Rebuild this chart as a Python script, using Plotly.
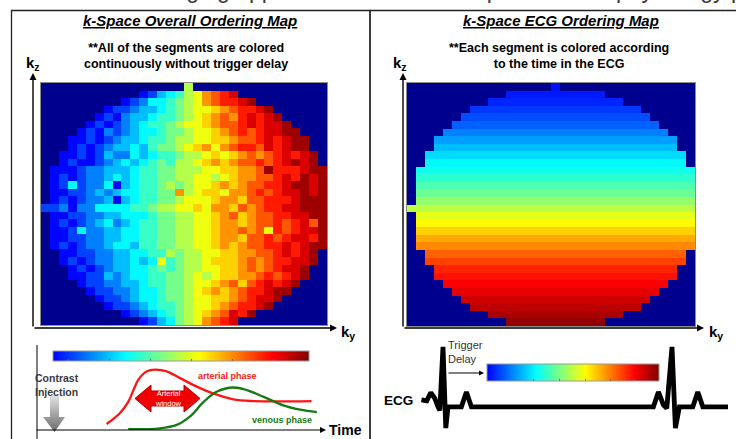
import plotly.graph_objects as go

W, H = 736, 439

# ---------------- data ----------------
N_K = 32
# half-width (in cells) of the sampled k-space disc for each kz row
row_halfwidth = [0, 5, 7, 9, 10, 11, 12, 13, 13, 14, 14, 15, 15, 15, 15, 15,
                 16, 15, 15, 15, 15, 15, 14, 14, 13, 13, 12, 11, 10, 9, 7, 5]

# colour levels used in the overall ordering map (jet position)
level_codes = "0123456789ABCDE"
level_values = [0.13, 0.19, 0.25, 0.31, 0.37, 0.43, 0.49, 0.55,
                0.61, 0.67, 0.73, 0.79, 0.85, 0.91, 0.97]

# overall ordering map: one code per sampled cell, row by row (top to bottom)
overall_rows = [
    "7",
    "0134578ABCD",
    "012445678ABCCDE",
    "0112334567889ABCCDE",
    "0102334556789ABACDCDE",
    "01012345567889ABBCDCDDE",
    "0102123445667889ABCBCDDEE",
    "001012334556778899ABBCDCDEE",
    "010123343566789A8ABCCBDCDEE",
    "00101322434556778989ABABCDCDE",
    "01001234345657789A9ABBCBCDEDE",
    "000122333455667778899AABECCCDEE",
    "010122343455667788789AABBCDCEDE",
    "0141224034556767889A9ABBCCDEEDE",
    "00112323445566A78998AABCBCDDEDE",
    "0101223034556678889AA9BBCCCDEEE",
    "1120224444556778898AA9BABCCDDEEE",
    "0011223344456677889AB9ABBCCDDEE",
    "0101234234556677889AA9ABBCBCDBE",
    "0014223344556677889AABAB8CBCDDE",
    "0011223344556677889AA9BBCBCDDCE",
    "0101223443556677889A9ABBCCDCDEE",
    "00112233445576778899AABBCDCDE",
    "01012233434856778999ABABCCDDE",
    "0101233445656778899ABABCDDE",
    "0011323445566787899AABCBCDE",
    "0112233455667889AB9BCDCDE",
    "01122344566789A9ABCCDEE",
    "011234456678899ABCDDE",
    "0112345567889ABCCDE",
    "0123456789ABDCE",
    "0134678ABCD",
]

# ECG ordering map: value of each kz row
ecg_row_values = [0.14, 0.15, 0.16, 0.18, 0.20, 0.22, 0.25, 0.28, 0.31, 0.34,
                  0.37, 0.39, 0.42, 0.45, 0.48, 0.52, 0.56, 0.60, 0.63, 0.67,
                  0.71, 0.74, 0.78, 0.81, 0.84, 0.86, 0.88, 0.90, 0.92, 0.94,
                  0.96, 0.98]
background_value = 0.0

# contrast enhancement curves (time in s, relative signal)
arterial_t = [14.5, 17.3, 19.0, 20.1, 21.1, 22.9, 24.6, 27.0, 29.8, 33.3, 36.7, 40.9, 45.1, 57.2]
arterial_s = [0.07, 0.20, 0.33, 0.47, 0.59, 0.69, 0.71, 0.69, 0.61, 0.51, 0.43, 0.36, 0.34, 0.34]
venous_t = [19.0, 25.6, 29.1, 31.9, 34.7, 37.4, 40.9, 43.7, 47.2, 51.3, 54.8, 58.3]
venous_s = [0.01, 0.02, 0.06, 0.16, 0.33, 0.45, 0.50, 0.47, 0.39, 0.29, 0.24, 0.21]

# ECG trace (time in s, mV)
ecg_t = [0.227, 0.254, 0.274, 0.294, 0.310, 0.319, 0.335, 0.349, 0.360, 0.427,
         0.452, 0.477, 1.387, 1.412, 1.437, 1.454, 1.480, 1.497, 1.517, 1.584,
         1.609, 1.634, 1.760]
ecg_mv = [0.14, 0.12, 0.29, 0.17, 0.0, -0.07, 1.21, -0.43, 0.0, 0.0,
          0.30, 0.0, 0.0, 0.30, 0.04, -0.03, 1.21, -0.43, 0.0, 0.0,
          0.30, 0.0, 0.0]

# ---------------- build grids ----------------
z_overall, z_ecg = [], []
for r in range(N_K):
    h = row_halfwidth[r]
    c0, c1 = 16 - h, min(16 + h, N_K - 1)
    codes = overall_rows[r]
    zo = [background_value] * N_K
    ze = [background_value] * N_K
    for i, c in enumerate(range(c0, c1 + 1)):
        ch = codes[min(i, len(codes) - 1)]
        zo[c] = level_values[level_codes.index(ch)]
        ze[c] = ecg_row_values[r]
    z_overall.append(zo)
    z_ecg.append(ze)

jet = [[0.0, 'rgb(0,0,143)'], [0.125, 'rgb(0,0,255)'], [0.375, 'rgb(0,255,255)'],
       [0.625, 'rgb(255,255,0)'], [0.875, 'rgb(255,0,0)'], [1.0, 'rgb(128,0,0)']]
jet_bar = [[0.0, 'rgb(0,0,255)'], [0.2857, 'rgb(0,255,255)'], [0.5714, 'rgb(255,255,0)'],
           [0.8571, 'rgb(255,0,0)'], [1.0, 'rgb(128,0,0)']]


def fx(px):
    return px / W


def fy(py):
    return 1 - py / H


FONT = "Arial, Liberation Sans, sans-serif"

fig = go.Figure()
idx = list(range(N_K))
fig.add_trace(go.Heatmap(z=z_overall, x=idx, y=idx, colorscale=jet, zmin=0, zmax=1,
                         showscale=False, xaxis='x', yaxis='y', hoverinfo='skip'))
fig.add_trace(go.Heatmap(z=z_ecg, x=idx, y=idx, colorscale=jet, zmin=0, zmax=1,
                         showscale=False, xaxis='x2', yaxis='y2', hoverinfo='skip'))

# contrast curves
fig.add_trace(go.Scatter(x=arterial_t, y=arterial_s, mode='lines', xaxis='x3', yaxis='y3',
                         line=dict(color='#ff1414', width=2.3, shape='spline', smoothing=1.0),
                         hoverinfo='skip', cliponaxis=False))
fig.add_trace(go.Scatter(x=venous_t, y=venous_s, mode='lines', xaxis='x3', yaxis='y3',
                         line=dict(color='#157a15', width=2.3, shape='spline', smoothing=1.0),
                         hoverinfo='skip', cliponaxis=False))
# ECG
fig.add_trace(go.Scatter(x=ecg_t, y=ecg_mv, mode='lines', xaxis='x4', yaxis='y4',
                         line=dict(color='black', width=4.8), hoverinfo='skip', cliponaxis=False))

# decorations in pixel space
# gray contrast-injection arrow
fig.add_trace(go.Scatter(x=[50, 59, 59, 65, 54.5, 43, 50, 50], y=[395, 395, 417, 417, 432, 417, 417, 395],
                         mode='lines', fill='toself', xaxis='x5', yaxis='y5',
                         line=dict(width=0, color='rgba(0,0,0,0)'),
                         fillgradient=dict(type='vertical', start=395, stop=432,
                                           colorscale=[[0, '#e4e4e4'], [1, '#6a6a6a']]),
                         hoverinfo='skip'))
# arterial window double arrow
fig.add_trace(go.Scatter(x=[135, 151, 151, 184, 184, 200, 184, 184, 151, 151, 135],
                         y=[398.5, 385, 391, 391, 385, 398.5, 412, 406, 406, 412, 398.5],
                         mode='lines', fill='toself', xaxis='x5', yaxis='y5',
                         fillcolor='#f00000', line=dict(width=1, color='#b00000'),
                         hoverinfo='skip'))

# colour bars
fig.add_trace(go.Scatter(x=[-50, -50], y=[-50, -50], mode='markers', xaxis='x5', yaxis='y5',
                         marker=dict(color=[0, 1], cmin=0, cmax=1, colorscale=jet_bar, size=1,
                                     showscale=True,
                                     colorbar=dict(orientation='h', x=fx(53), xanchor='left',
                                                   y=fy(351), yanchor='top', len=256, lenmode='pixels',
                                                   thickness=10, thicknessmode='pixels',
                                                   xpad=0, ypad=0, outlinewidth=1, outlinecolor='#9a9a9a',
                                                   ticks='inside', ticklen=2, tickcolor='#666',
                                                   tickmode='array', tickvals=[0.06, 0.22, 0.38, 0.54, 0.70, 0.86],
                                                   showticklabels=False)),
                         hoverinfo='skip', showlegend=False))
fig.add_trace(go.Scatter(x=[-50, -50], y=[-50, -50], mode='markers', xaxis='x5', yaxis='y5',
                         marker=dict(color=[0, 1], cmin=0, cmax=1, colorscale=jet_bar, size=1,
                                     showscale=True,
                                     colorbar=dict(orientation='h', x=fx(487), xanchor='left',
                                                   y=fy(364), yanchor='top', len=172, lenmode='pixels',
                                                   thickness=17, thicknessmode='pixels',
                                                   xpad=0, ypad=0, outlinewidth=1, outlinecolor='#9a9a9a',
                                                   ticks='inside', ticklen=2, tickcolor='#666',
                                                   tickmode='array', tickvals=[0.12, 0.27, 0.42, 0.57, 0.72, 0.86],
                                                   showticklabels=False)),
                         hoverinfo='skip', showlegend=False))

hidden = dict(visible=False, showgrid=False, zeroline=False, fixedrange=True)
frame = dict(showgrid=False, zeroline=False, showticklabels=False, ticks='', showline=True,
             mirror=True, linecolor='#8c8c8c', linewidth=1, fixedrange=True)

fig.update_layout(
    width=W, height=H, autosize=False,
    margin=dict(l=0, r=0, t=0, b=0, pad=0),
    paper_bgcolor='white', plot_bgcolor='rgba(0,0,0,0)',
    showlegend=False,
    font=dict(family=FONT, color='black'),
    xaxis=dict(domain=[fx(41), fx(327)], range=[-0.5, 31.5], **frame),
    yaxis=dict(domain=[fy(325), fy(83)], range=[31.5, -0.5], **frame),
    xaxis2=dict(domain=[fx(407), fx(695)], range=[-0.5, 31.5], anchor='y2', **frame),
    yaxis2=dict(domain=[fy(326), fy(83)], range=[31.5, -0.5], anchor='x2', **frame),
    xaxis3=dict(domain=[fx(37), fx(325)], range=[0, 60], anchor='y3', **hidden),
    yaxis3=dict(domain=[fy(430), fy(345)], range=[0, 1], anchor='x3', **hidden),
    xaxis4=dict(domain=[fx(376), fx(736)], range=[0, 1.8], anchor='y4', **hidden),
    yaxis4=dict(domain=[fy(439), fy(340)], range=[-0.65, 1.35], anchor='x4', **hidden),
    xaxis5=dict(domain=[0, 1], range=[0, W], anchor='y5', **hidden),
    yaxis5=dict(domain=[0, 1], range=[H, 0], anchor='x5', **hidden),
)

shapes = []
# panel borders
shapes.append(dict(type='rect', xref='paper', yref='paper', x0=fx(11.5), x1=fx(370), y0=fy(450), y1=fy(10.5),
                   line=dict(color='#222', width=1.3)))
shapes.append(dict(type='rect', xref='paper', yref='paper', x0=fx(370), x1=fx(760), y0=fy(450), y1=fy(10.5),
                   line=dict(color='#222', width=1.3)))
# left diagram vertical axis
shapes.append(dict(type='line', xref='paper', yref='paper', x0=fx(37), x1=fx(37), y0=fy(345), y1=fy(445),
                   line=dict(color='black', width=1)))
fig.update_layout(shapes=shapes)

ann = []


def text(px, py, s, size, color='black', bold=False, italic=False, xanchor='center', yanchor='middle',
         align='center', family=FONT):
    ann.append(dict(x=fx(px), y=fy(py), xref='paper', yref='paper', text=s, showarrow=False,
                    xanchor=xanchor, yanchor=yanchor, align=align,
                    font=dict(size=size, color=color, family=family,
                              weight='bold' if bold else 'normal',
                              style='italic' if italic else 'normal')))


def arrow(x_tip, y_tip, x_tail, y_tail, width=1.4, head=2, size=1.0, color='black'):
    ann.append(dict(x=fx(x_tip), y=fy(y_tip), xref='paper', yref='paper', text='', showarrow=True,
                    ax=x_tail - x_tip, ay=y_tail - y_tip, axref='pixel', ayref='pixel',
                    arrowhead=head, arrowsize=size, arrowwidth=width, arrowcolor=color, standoff=0))


# cut-off heading line at the very top
text(-4, 5.5, "Time-resolved imaging approach is too fast compared to the physiology pro", 23,
     color='#3a3a3a', xanchor='left', yanchor='bottom')

# titles
text(190, 21, "<u>k-Space Overall Ordering Map</u>", 15, bold=True, italic=True)
text(561, 21, "<u>k-Space ECG Ordering Map</u>", 15, bold=True, italic=True)
text(186, 56, "**All of the segments are colored<br>continuously without trigger delay", 12.5, bold=True)
text(559, 56, "**Each segment is colored according<br>to the time in the ECG", 12.5, bold=True)

# k-space axes
arrow(33, 73, 33, 328)
arrow(337, 328, 33, 328)
arrow(403, 73, 403, 328)
arrow(704, 328, 403, 328)
text(33, 64, "k<sub>z</sub>", 15, bold=True)
text(348, 332, "k<sub>y</sub>", 15, bold=True)
text(400, 64, "k<sub>z</sub>", 15, bold=True)
text(716, 332, "k<sub>y</sub>", 15, bold=True)

# left diagram
arrow(326, 430, 35, 430, width=1.2)
text(345, 430, "Time", 14, bold=True)
text(33, 385, "Contrast<br>Injection", 10.5, color='#3a3a3a', bold=True, xanchor='left', align='left')
text(196, 376, "arterial phase", 9, color='#ff1414', bold=True, xanchor='left')
text(250, 420, "venous phase", 9, color='#157a15', bold=True, xanchor='left')
text(168, 398.5, "Arterial<br>window", 7.5, color='white')

# right diagram
text(398, 400, "ECG", 13.5, bold=True)
text(446, 352, "Trigger<br>Delay", 11, color='#333', xanchor='left', align='left')
arrow(484, 373, 447, 373, width=1.1, size=0.9)

fig.update_layout(annotations=ann)

fig.write_html("out.html", config={'displayModeBar': False},
               post_script="document.body.style.margin='0';document.body.style.overflow='hidden';")
